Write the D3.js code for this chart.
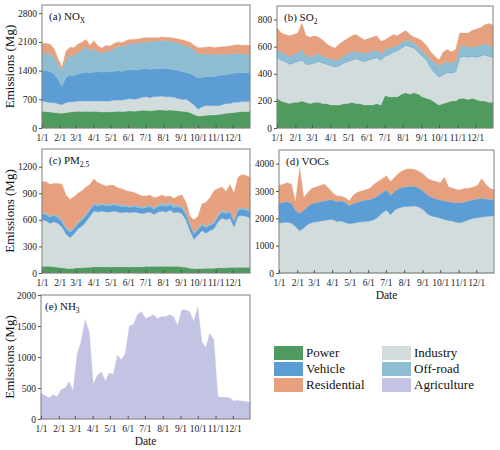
<!DOCTYPE html>
<html>
<head>
<meta charset="utf-8">
<script src="https://cdn.jsdelivr.net/npm/d3@7"></script>
<style>
body { margin: 0; background: #fff; }
svg { font-family: "Liberation Serif", "Times New Roman", serif; }
</style>
</head>
<body>
<script>
// weekly samples, day of year 0 (1/1) .. 364 (12/31)
var days = d3.range(0, 365, 7);
var monthStarts = [0, 31, 59, 90, 120, 151, 181, 212, 243, 273, 304, 334];
var monthLabels = ["1/1", "2/1", "3/1", "4/1", "5/1", "6/1", "7/1", "8/1", "9/1", "10/1", "11/1", "12/1"];
var sectors = ["Power", "Industry", "Vehicle", "Off-road", "Residential"];

// NOx (Mg)
var noxPower = [410,400,390,380,370,360,380,390,400,410, 400,410,400,410,400,390,400,390,400,410, 400,410,420,410,420,430,430,420,430,440, 440,430,440,430,420,410,400,380,330,290, 300,310,320,320,330,340,360,370,380,390, 400,400,410];
var noxIndustry = [250,240,230,240,220,210,240,250,240,250, 260,250,260,250,260,270,260,270,280,270, 280,290,300,290,300,320,330,320,340,330, 340,330,320,320,300,290,300,260,230,170, 220,240,220,230,210,230,240,230,250,240, 250,240,250];
var noxVehicle = [740,760,750,700,600,450,620,650,640,660, 680,700,690,700,720,700,720,700,710,720, 700,710,700,720,700,690,680,690,670,680, 680,690,680,670,690,680,660,690,720,760, 720,700,720,700,740,720,700,720,710,720, 700,710,700];
var noxOffroad = [430,420,450,420,380,400,450,480,500,530, 560,640,520,600,480,470,500,520,560,590, 600,620,640,650,660,660,670,680,680,670, 680,680,690,680,670,660,640,650,620,600, 570,560,550,540,520,510,500,490,480,470, 460,450,440];
var noxResidential = [230,240,220,200,120,60,180,200,180,200, 190,160,150,170,140,120,130,120,110,110, 100,100,100,90,90,90,90,90,80,80, 80,80,80,90,90,110,120,110,120,140, 150,160,170,170,170,180,190,190,200,210, 210,220,220];

// SO2 (Mg)
var so2Power = [220,200,190,180,190,190,200,190,180,190, 190,180,180,170,170,170,180,180,190,180, 180,170,170,170,180,170,240,230,230,230, 250,260,250,260,250,230,220,210,190,170, 180,190,200,200,220,220,210,220,210,200, 200,190,190];
var so2Industry = [300,300,300,290,290,300,300,280,290,290, 300,300,290,290,280,290,300,310,310,330, 320,320,330,340,340,330,290,310,330,340, 340,350,350,330,310,300,280,235,215,205, 215,220,205,215,300,310,310,310,310,330, 340,340,330];
var so2Vehicle = [5,6,5,5,4,5,5,6,5,5, 5,5,4,5,5,5,6,5,5,5, 5,5,5,4,5,5,5,5,5,6, 5,5,5,5,5,5,4,5,5,5, 5,5,5,5,6,5,5,5,5,5, 6,5,5];
var so2Offroad = [55,55,55,55,55,65,75,55,55,55, 55,45,45,45,45,45,45,55,55,55, 55,55,55,55,50,45,45,45,35,35, 35,35,35,35,35,35,35,60,70,80, 80,75,70,70,75,75,75,65,75,75, 75,75,75];
var so2Residential = [160,140,140,150,150,140,190,150,140,140, 120,120,100,90,90,110,110,110,120,120, 110,100,100,100,105,90,70,80,90,70, 70,70,50,40,60,70,70,50,50,40, 80,90,80,90,100,90,100,120,130,130, 140,160,160];

// PM2.5 (Mg)
var pmPower = [75,75,75,70,65,60,55,50,55,60, 60,65,65,70,70,70,70,70,70,70, 70,70,70,70,70,70,75,75,75,75, 75,75,75,75,75,70,65,55,50,50, 50,55,55,55,60,60,60,65,65,65, 65,65,65];
var pmIndustry = [525,515,485,510,495,460,385,350,385,440, 470,515,575,630,620,630,620,620,630,620, 610,620,610,620,610,600,605,615,585,615, 625,615,635,605,615,600,535,425,330,380, 430,395,425,445,520,560,540,555,455,575, 585,575,555];
var pmVehicle = [70,70,70,70,60,60,60,60,60,60, 70,70,70,70,70,70,70,70,70,70, 70,60,60,60,60,60,60,60,60,60, 60,60,60,60,60,60,60,60,60,60, 60,60,60,60,60,70,70,70,60,70, 70,70,70];
var pmOffroad = [20,20,20,20,20,20,20,20,20,20, 20,20,20,20,20,20,20,20,20,20, 20,20,20,20,20,20,20,20,20,20, 30,30,30,30,20,20,20,20,20,20, 20,20,20,20,20,20,20,20,20,20, 20,20,20];
var pmResidential = [340,350,350,340,370,400,360,350,340,320, 310,300,270,270,240,210,200,210,200,180, 180,160,160,140,130,120,110,110,110,90, 90,80,70,70,100,130,120,80,140,130, 220,270,290,350,290,260,230,290,300,350, 370,370,370];

// VOCs (Mg)
var vocPower = [15,15,16,15,14,14,15,15,15,15, 15,16,15,15,15,15,15,15,15,15, 16,15,15,15,16,16,17,16,17,17, 17,17,17,17,16,16,15,15,15,15, 15,15,15,15,15,15,15,15,15,15, 15,15,15];
var vocIndustry = [1805,1835,1845,1815,1685,1535,1635,1765,1835,1855, 1885,1905,1935,1945,1865,1885,1835,1785,1805,1845, 1855,1865,1885,1935,2035,2185,2285,2115,2285,2365, 2405,2415,2425,2435,2385,2285,2135,2065,2035,1985, 1945,1905,1885,1835,1825,1885,1935,1985,2005,2035, 2055,2065,2085];
var vocVehicle = [720,740,750,720,590,640,640,660,690,700, 710,720,720,710,730,740,740,670,720,730, 770,790,790,790,790,740,740,710,690,710, 720,730,730,710,690,690,690,690,660,670, 680,690,690,720,730,710,690,690,690,690, 640,610,590];
var vocOffroad = [10,10,10,10,10,10,10,10,10,10, 10,10,10,10,10,10,10,10,10,10, 10,10,10,10,10,10,10,10,10,10, 10,10,10,10,10,10,10,10,10,10, 10,10,10,10,10,10,10,10,10,10, 10,10,10];
var vocResidential = [650,650,680,690,300,1650,450,500,550,570, 580,600,420,250,200,160,150,150,300,350, 350,370,400,500,500,500,500,500,500,550, 600,630,620,610,600,600,600,600,630,620, 850,530,500,470,470,480,450,450,480,700, 530,400,350];

// NH3 (Mg)
var nh3Agriculture = [410,380,340,390,360,470,500,600,450,1050, 1250,1600,1400,560,700,760,610,740,720,1030, 950,1060,1500,1520,1680,1730,1620,1650,1680,1620, 1650,1650,1680,1650,1500,1760,1760,1730,1570,1810, 1250,1150,1380,1280,360,350,350,340,290,300, 290,280,270];

var colors = {
    "Power": "#4f9a5e",
    "Industry": "#d3dcdd",
    "Vehicle": "#5c9dd6",
    "Off-road": "#8ebdd1",
    "Residential": "#e6a07e",
    "Agriculture": "#c3c3e3"
};

var panels = [
    { tag: "(a) ", chem: "NO", sub: "X", left: 42, right: 250, top: 5, bottom: 128, max: 3000,
      ticks: [0, 700, 1400, 2100, 2800], keys: sectors,
      series: [noxPower, noxIndustry, noxVehicle, noxOffroad, noxResidential], yTitle: true },
    { tag: "(b) ", chem: "SO", sub: "2", left: 277, right: 493, top: 6, bottom: 128, max: 900,
      ticks: [0, 200, 400, 600, 800], keys: sectors,
      series: [so2Power, so2Industry, so2Vehicle, so2Offroad, so2Residential] },
    { tag: "(c) ", chem: "PM", sub: "2.5", left: 42, right: 250, top: 149, bottom: 273, max: 1400,
      ticks: [0, 300, 600, 900, 1200], keys: sectors,
      series: [pmPower, pmIndustry, pmVehicle, pmOffroad, pmResidential], yTitle: true },
    { tag: "(d) ", chem: "VOCs", sub: "", left: 279, right: 494, top: 150, bottom: 273, max: 4500,
      ticks: [0, 1000, 2000, 3000, 4000], keys: sectors,
      series: [vocPower, vocIndustry, vocVehicle, vocOffroad, vocResidential], xTitle: true },
    { tag: "(e) ", chem: "NH", sub: "3", left: 41, right: 250, top: 295, bottom: 419, max: 2000,
      ticks: [0, 500, 1000, 1500, 2000], keys: ["Agriculture"],
      series: [nh3Agriculture], yTitle: true, xTitle: true, tagDx: 4 }
];

var svg = d3.select("body")
    .append("svg")
    .attr("width", 500)
    .attr("height", 450);

panels.forEach(function (p) {
    var x = d3.scaleLinear().domain([0, 364]).range([p.left, p.right]);
    var y = d3.scaleLinear().domain([0, p.max]).range([p.bottom, p.top]);

    var rows = days.map(function (d, i) {
        var r = { day: d };
        p.keys.forEach(function (k, j) { r[k] = p.series[j][i]; });
        return r;
    });
    var stacked = d3.stack().keys(p.keys)(rows);

    var area = d3.area()
        .x(function (d) { return x(d.data.day); })
        .y0(function (d) { return y(d[0]); })
        .y1(function (d) { return y(d[1]); });

    var g = svg.append("g");

    g.selectAll("path.layer")
        .data(stacked)
        .enter()
        .append("path")
        .attr("class", "layer")
        .attr("d", area)
        .attr("fill", function (d) { return colors[d.key]; })
        .attr("stroke", function (d) { return colors[d.key]; })
        .attr("stroke-width", 0.4);

    // frame
    g.append("rect")
        .attr("x", p.left)
        .attr("y", p.top)
        .attr("width", p.right - p.left)
        .attr("height", p.bottom - p.top)
        .attr("fill", "none")
        .attr("stroke", "#808080")
        .attr("stroke-width", 1);

    var yAxis = g.append("g")
        .attr("transform", "translate(" + p.left + ",0)")
        .call(d3.axisLeft(y).tickValues(p.ticks).tickFormat(d3.format("d"))
            .tickSize(3).tickPadding(2));
    yAxis.select(".domain").remove();
    yAxis.selectAll("text").attr("font-size", 9.5).attr("fill", "#222").attr("font-family", "Liberation Serif");
    yAxis.selectAll("line").attr("stroke", "#555");

    var xAxis = g.append("g")
        .attr("transform", "translate(0," + p.bottom + ")")
        .call(d3.axisBottom(x).tickValues(monthStarts)
            .tickFormat(function (d, i) { return monthLabels[i]; })
            .tickSizeInner(-3).tickSizeOuter(0).tickPadding(6));
    xAxis.select(".domain").remove();
    xAxis.selectAll("text").attr("font-size", 9.5).attr("fill", "#222").attr("font-family", "Liberation Serif");
    xAxis.selectAll("line").attr("stroke", "#555");

    var label = g.append("text")
        .attr("x", p.left + (p.tagDx || 7))
        .attr("y", p.top + 15)
        .attr("font-size", 11)
        .attr("fill", "#111");
    label.append("tspan").text(p.tag + p.chem);
    if (p.sub) {
        label.append("tspan").attr("dy", 3).attr("font-size", 7.5).text(p.sub);
    }

    if (p.yTitle) {
        g.append("text")
            .attr("transform", "translate(14," + ((p.top + p.bottom) / 2) + ") rotate(-90)")
            .attr("text-anchor", "middle")
            .attr("font-size", 13)
            .attr("fill", "#111")
            .text("Emissions (Mg)");
    }
    if (p.xTitle) {
        g.append("text")
            .attr("x", (p.left + p.right) / 2)
            .attr("y", p.bottom + 26)
            .attr("text-anchor", "middle")
            .attr("font-size", 11.5)
            .attr("fill", "#111")
            .text("Date");
    }
});

// legend
var legendItems = [
    { name: "Power", col: 0, row: 0 },
    { name: "Vehicle", col: 0, row: 1 },
    { name: "Residential", col: 0, row: 2 },
    { name: "Industry", col: 1, row: 0 },
    { name: "Off-road", col: 1, row: 1 },
    { name: "Agriculture", col: 1, row: 2 }
];

var legend = svg.append("g").selectAll("g")
    .data(legendItems)
    .enter()
    .append("g")
    .attr("transform", function (d) { return "translate(" + (274 + d.col * 108) + "," + (346 + d.row * 16) + ")"; });

legend.append("rect")
    .attr("width", 29)
    .attr("height", 14)
    .attr("fill", function (d) { return colors[d.name]; });

legend.append("text")
    .attr("x", 32)
    .attr("y", 11)
    .attr("font-size", 13)
    .attr("fill", "#111")
    .text(function (d) { return d.name; });
</script>
</body>
</html>
